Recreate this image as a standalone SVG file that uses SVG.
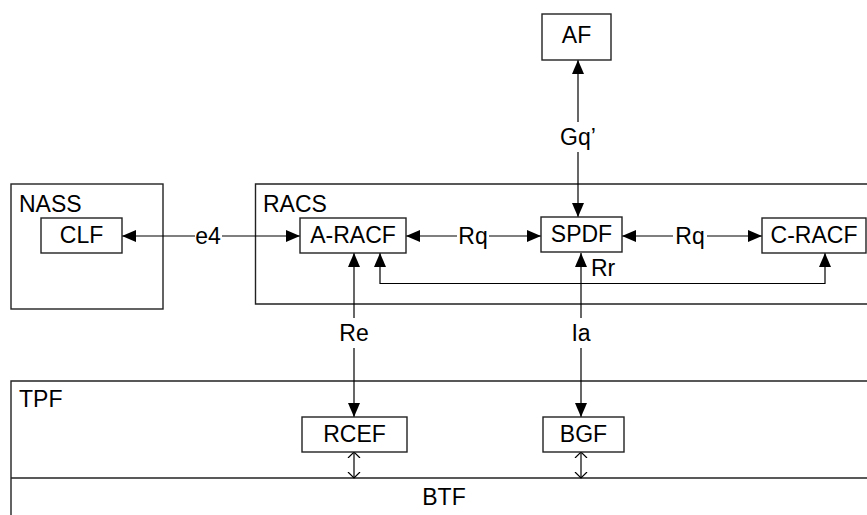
<svg xmlns="http://www.w3.org/2000/svg" width="867" height="515" viewBox="0 0 867 515">
<style>
text{font-family:"Liberation Sans",Arial,sans-serif;font-size:23px;fill:#000}
.c{text-anchor:middle}
.box{fill:#fff;stroke:#222;stroke-width:1.4}
.grp{fill:none;stroke:#222;stroke-width:1.4}
.ln{fill:none;stroke:#000;stroke-width:1.2}
.a2{marker-start:url(#ah);marker-end:url(#ah)}
.a1{marker-end:url(#ah)}
.ch{marker-start:url(#ch);marker-end:url(#ch)}
</style>
<defs>
<marker id="ah" markerUnits="userSpaceOnUse" markerWidth="15" markerHeight="13" refX="14" refY="6" orient="auto-start-reverse" viewBox="0 0 15 12"><path d="M0,0 L14,6 L0,12 z" fill="#000"/></marker>
<marker id="ch" markerUnits="userSpaceOnUse" markerWidth="8" markerHeight="14" refX="6" refY="7" orient="auto-start-reverse" viewBox="0 0 8 14"><path d="M0,1 L6,7 L0,13" fill="none" stroke="#000" stroke-width="1.2"/></marker>
</defs>
<rect width="867" height="515" fill="#fff"/>
<g id="NASS"><rect class="grp" x="11" y="184" width="152" height="125"/><text x="19" y="212">NASS</text></g>
<g id="RACS"><path class="grp" d="M870,184 H255.5 V304 H870"/><text x="263" y="212">RACS</text></g>
<g id="TPF"><path class="grp" d="M870,381 H11 V520"/><text x="19" y="407">TPF</text></g>
<g id="BTF"><path class="grp" d="M11,478 H870"/><text class="c" x="444" y="505">BTF</text></g>
<g id="connectors">
<path class="ln" d="M122,236 H195" marker-start="url(#ah)"/><path class="ln a1" d="M222,236 H300"/>
<path class="ln" d="M406,236 H457" marker-start="url(#ah)"/><path class="ln a1" d="M489,236 H541"/>
<path class="ln" d="M622,236 H673" marker-start="url(#ah)"/><path class="ln a1" d="M707,236 H762"/>
<path class="ln" d="M578,60 V122" marker-start="url(#ah)"/><path class="ln a1" d="M578,152 V217"/>
<path class="ln" d="M354,253 V318" marker-start="url(#ah)"/><path class="ln a1" d="M354,348 V417"/>
<path class="ln" d="M581,253 V318" marker-start="url(#ah)"/><path class="ln a1" d="M581,348 V417"/>
<path class="ln a2" d="M380,253 V283.5 H825 V253"/>
<path class="ln ch" d="M354,452 V478"/>
<path class="ln ch" d="M581,452 V478"/>
</g>
<g id="labels">
<text class="c" x="208" y="244">e4</text>
<text class="c" x="473" y="244">Rq</text>
<text class="c" x="690" y="244">Rq</text>
<text class="c" x="578" y="145">Gq’</text>
<text class="c" x="354" y="341">Re</text>
<text class="c" x="581" y="341">Ia</text>
<text x="591" y="276">Rr</text>
</g>
<g id="AF"><rect class="box" x="542" y="14" width="69" height="46"/><text class="c" x="576.5" y="43">AF</text></g>
<g id="CLF"><rect class="box" x="41" y="218" width="81" height="35"/><text class="c" x="81.5" y="243">CLF</text></g>
<g id="A-RACF"><rect class="box" x="300" y="218" width="106" height="35"/><text class="c" x="353" y="243">A-RACF</text></g>
<g id="SPDF"><rect class="box" x="541" y="217" width="81" height="35"/><text class="c" x="581.5" y="242">SPDF</text></g>
<g id="C-RACF"><rect class="box" x="762" y="218" width="104" height="35"/><text class="c" x="814" y="243">C-RACF</text></g>
<g id="RCEF"><rect class="box" x="302" y="417" width="105" height="35"/><text class="c" x="354.5" y="442">RCEF</text></g>
<g id="BGF"><rect class="box" x="543" y="417" width="81" height="35"/><text class="c" x="583.5" y="442">BGF</text></g>
</svg>
